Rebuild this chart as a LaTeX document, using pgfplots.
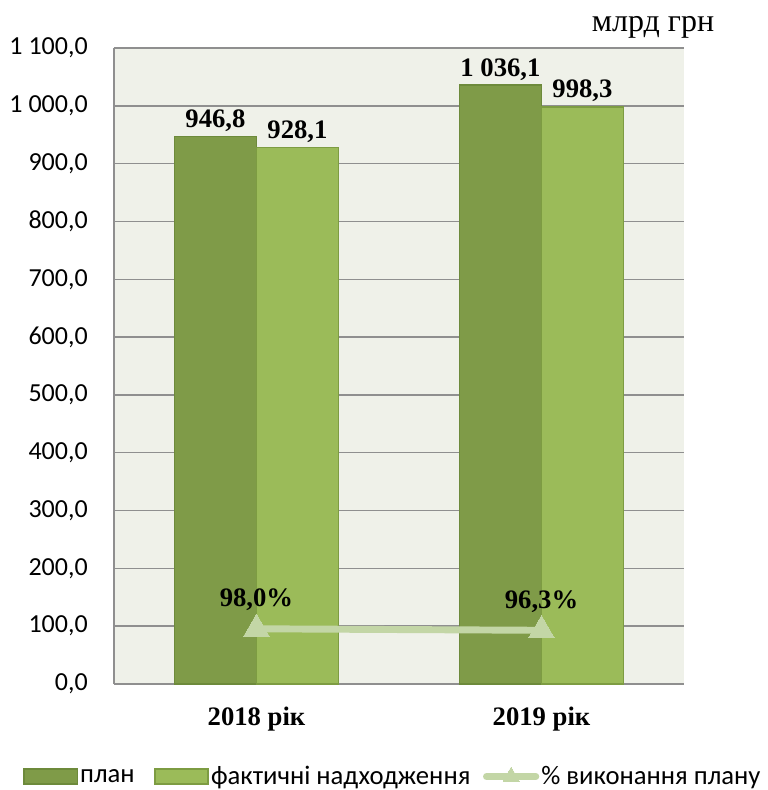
\documentclass[border=0pt]{standalone}
\usepackage{fontspec}
\setmainfont{Carlito}
\newfontfamily\tnr{Liberation Serif}
\usepackage{pgfplots}
\pgfplotsset{compat=1.18}

\definecolor{plan}{HTML}{7F9B48}
\definecolor{planedge}{HTML}{6D8A3B}
\definecolor{fact}{HTML}{9BBB59}
\definecolor{factedge}{HTML}{7D9C42}
\definecolor{pct}{HTML}{C3D6A6}
\definecolor{plotbg}{HTML}{EFF1E9}
\definecolor{gridc}{HTML}{8F8F8F}

\pgfplotsset{
  /pgf/number format/fixed,
  /pgf/number format/fixed zerofill,
  /pgf/number format/precision=1,
  /pgf/number format/use comma,
  /pgf/number format/1000 sep={\ },
  /pgf/number format/assume math mode=true,
  barlegend/.style={legend image code/.code={\draw[##1] (0pt,-5.6pt) rectangle (40pt,5.6pt);}},
  linelegend/.style={legend image code/.code={\draw[##1, mark size=7pt, mark repeat=2, mark phase=2] plot coordinates {(2.5pt,0pt) (21pt,0pt) (39.5pt,0pt)};}},
  barlabel/.style={nodes near coords,
    every node near coord/.append style={font=\tnr\bfseries\fontsize{20}{24}\selectfont, inner sep=3pt, black, xshift=#1}},
}

\begin{document}
\begin{tikzpicture}
\useasboundingbox (-85.5pt,-79.5pt) rectangle (490.5pt,513pt);
\begin{axis}[
    scale only axis,
    width=427.5pt, height=477pt,
    xmin=-0.5, xmax=1.5,
    ymin=0, ymax=1100,
    axis background/.style={fill=plotbg},
    axis lines*=left,
    axis line style={-, draw=gridc, line width=1.3pt},
    ymajorgrids,
    major grid style={draw=gridc, line width=1.1pt},
    ytick={0,100,...,1100},
    scaled y ticks=false,
    xtick={0,1},
    xticklabels={2018 рік, 2019 рік},
    major tick length=0pt,
    yticklabel style={font=\fontsize{19.5}{22}\selectfont, anchor=east, inner sep=0pt, xshift=-19.5pt},
    xticklabel style={font=\tnr\bfseries\fontsize{20}{24}\selectfont, anchor=base, inner sep=0pt, yshift=-30.75pt},
    legend columns=3,
    legend style={at={(-0.1596,-0.1455)}, anchor=west, draw=none, fill=none,
      font=\fontsize{20}{23}\selectfont, inner sep=0pt,
      nodes={inner xsep=1.5pt, inner ysep=0pt},
      /tikz/column 2/.style={column sep=13pt},
      /tikz/column 4/.style={column sep=8pt}},
  ]
  \addplot[ybar, bar width=61.5pt, bar shift=-30.75pt,
    fill=plan, draw=planedge, line width=1.2pt, barlabel=-30.75pt, barlegend]
    coordinates {(0,946.8) (1,1036.1)};
  \addlegendentry{план}
  \addplot[ybar, bar width=61.5pt, bar shift=30.75pt,
    fill=fact, draw=factedge, line width=1.2pt, barlabel=30.75pt, barlegend]
    coordinates {(0,928.1) (1,998.3)};
  \addlegendentry{фактичні надходження}
  \addlegendimage{draw=pct, line width=5.2pt, line cap=round,
    mark=triangle*, mark options={fill=pct, draw=pct, line width=0pt},
    linelegend}
  \addlegendentry{\% виконання плану}
\end{axis}
\begin{axis}[
    scale only axis,
    width=427.5pt, height=477pt,
    xmin=-0.5, xmax=1.5,
    ymin=35.5, ymax=755.5,
    hide axis,
  ]
  \addplot[draw=pct, line width=5.2pt,
    mark=triangle*, mark size=11pt, mark options={fill=pct, draw=pct, line width=0pt},
    nodes near coords={\pgfmathprintnumber{\pgfplotspointmeta}\%},
    every node near coord/.append style={font=\tnr\bfseries\fontsize{20}{24}\selectfont, inner sep=0pt, yshift=13.5pt, black}]
    coordinates {(0,98.0) (1,96.3)};
\end{axis}
\node[anchor=base, font=\tnr\fontsize{24}{28}\selectfont] at (404.25pt,489pt) {млрд грн};
\end{tikzpicture}
\end{document}
